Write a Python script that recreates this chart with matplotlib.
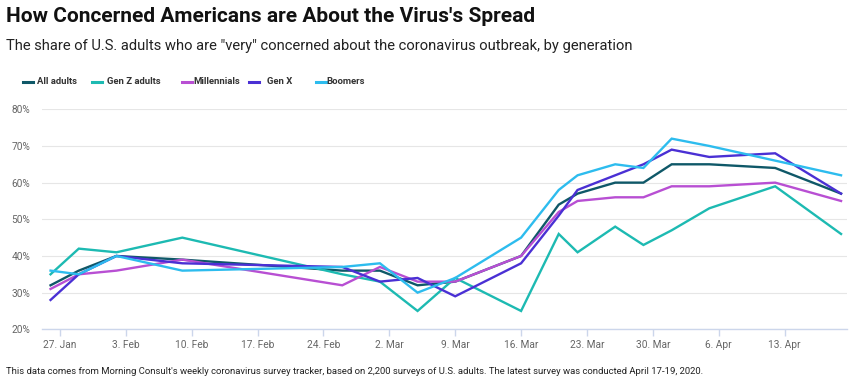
import datetime as dt
import matplotlib
matplotlib.use("Agg")
import matplotlib.pyplot as plt
import matplotlib.dates as mdates
from matplotlib.ticker import FixedLocator, FuncFormatter

# ---- data ----
dates = ["2020-01-26", "2020-01-29", "2020-02-02", "2020-02-09", "2020-02-26",
         "2020-03-01", "2020-03-05", "2020-03-09", "2020-03-16", "2020-03-20",
         "2020-03-22", "2020-03-26", "2020-03-29", "2020-04-01", "2020-04-05",
         "2020-04-12", "2020-04-19"]
all_adults  = [32, 36, 40, 39, 36, 36, 32, 33, 40, 54, 57, 60, 60, 65, 65, 64, 57]
gen_z       = [35, 42, 41, 45, 35, 33, 25, 34, 25, 46, 41, 48, 43, 47, 53, 59, 46]
millennials = [31, 35, 36, 39, 32, 37, 33, 33, 40, 52, 55, 56, 56, 59, 59, 60, 55]
gen_x       = [28, 35, 40, 38, 37, 33, 34, 29, 38, 51, 58, 62, 65, 69, 67, 68, 57]
boomers     = [36, 35, 40, 36, 37, 38, 30, 34, 45, 58, 62, 65, 64, 72, 70, 66, 62]

series_names = ["All adults", "Gen Z adults", "Millennials", "Gen X", "Boomers"]
series_colors = ["#0f5868", "#1dbab2", "#b84fd3", "#4a30d4", "#2dbcee"]

tick_dates = ["2020-01-27", "2020-02-03", "2020-02-10", "2020-02-17", "2020-02-24",
              "2020-03-02", "2020-03-09", "2020-03-16", "2020-03-23", "2020-03-30",
              "2020-04-06", "2020-04-13"]
tick_labels = ["27. Jan", "3. Feb", "10. Feb", "17. Feb", "24. Feb", "2. Mar",
               "9. Mar", "16. Mar", "23. Mar", "30. Mar", "6. Apr", "13. Apr"]
y_ticks = [20, 30, 40, 50, 60, 70, 80]

title = "How Concerned Americans are About the Virus's Spread"
subtitle = 'The share of U.S. adults who are "very" concerned about the coronavirus outbreak, by generation'
footer = ("This data comes from Morning Consult's weekly coronavirus survey tracker, based on 2,200 "
          "surveys of U.S. adults. The latest survey was conducted April 17-19, 2020.")

# ---- figure ----
plt.rcParams['font.family'] = ['Roboto', 'DejaVu Sans']
fig = plt.figure(figsize=(8.5, 3.84), dpi=100)
W, H = 850, 384
ax = fig.add_axes([41.7 / W, 1 - 329.3 / H, (846.7 - 41.7) / W, (329.3 - 109.3) / H])

x = [mdates.date2num(dt.date.fromisoformat(d)) for d in dates]
all_series = [all_adults, gen_z, millennials, gen_x, boomers]
for vals, name, col in zip(all_series, series_names, series_colors):
    ax.plot(x, vals, color=col, lw=1.7, label=name, solid_joinstyle='miter', zorder=3)

base = mdates.date2num(dt.date(2020, 1, 27))
ax.set_xlim(base - 1.94, base + 83.6)
ax.set_ylim(20, 80)

tx = [mdates.date2num(dt.date.fromisoformat(d)) for d in tick_dates]
ax.xaxis.set_major_locator(FixedLocator(tx))
ax.set_xticklabels(tick_labels)
ax.yaxis.set_major_locator(FixedLocator(y_ticks))
ax.yaxis.set_major_formatter(FuncFormatter(lambda v, p: f"{int(v)}%"))

ax.grid(axis='y', color='#e6e6e6', lw=0.8, zorder=0)
for s in ['top', 'right', 'left']:
    ax.spines[s].set_visible(False)
ax.spines['bottom'].set_color('#ccd6eb')
ax.spines['bottom'].set_linewidth(1.0)
ax.tick_params(axis='x', colors='#ccd6eb', length=5, width=1, labelcolor='#666666',
               labelsize=7.3, pad=3)
ax.tick_params(axis='y', length=0, labelcolor='#666666', labelsize=7.3, pad=8)

# title / subtitle / footer
fig.text(6 / W, 1 - 17 / H, title, fontsize=15, fontweight='bold', color='#111111',
         va='center', ha='left')
fig.text(6 / W, 1 - 46 / H, subtitle, fontsize=10.6, color='#222222', va='center', ha='left')
fig.text(6 / W, 1 - 372 / H, footer, fontsize=6.8, color='#222222', va='center', ha='left')

# legend
leg_line_x = [23, 92, 182, 249, 316]
leg_text_x = [37, 107, 193, 267, 326]
ly = 1 - 82 / H
for lx, tx_, name, col in zip(leg_line_x, leg_text_x, series_names, series_colors):
    fig.add_artist(plt.Line2D([lx / W, (lx + 10) / W], [ly, ly], color=col, lw=2.2,
                              transform=fig.transFigure))
    fig.text(tx_ / W, ly, name, fontsize=6.8, fontweight='bold', color='#333333',
             va='center', ha='left')

fig.savefig("out.png", dpi=100)
